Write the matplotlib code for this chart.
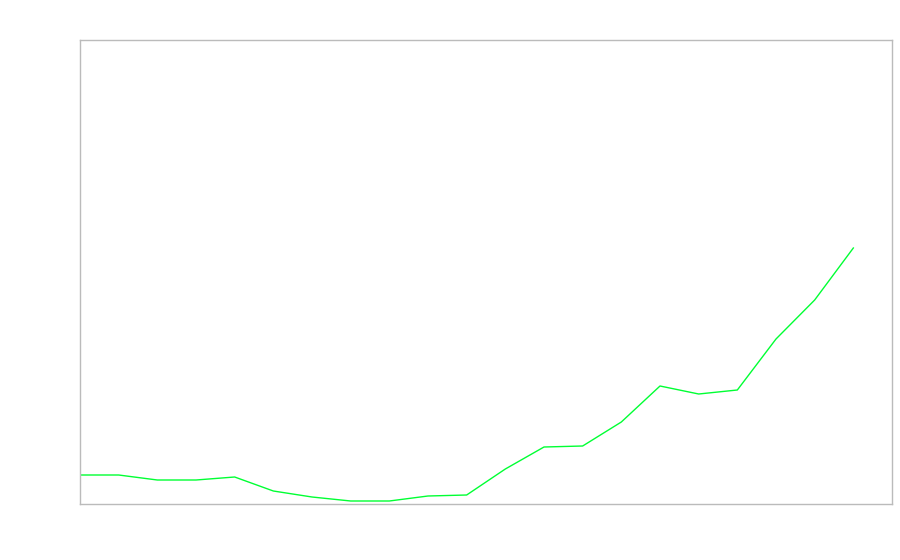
import matplotlib
matplotlib.use('Agg')
import matplotlib.pyplot as plt

# Data (arbitrary units, no labels shown)
periods = list(range(21))
values = [29, 29, 24, 24, 27, 13, 7, 3, 3, 8, 9, 35, 57, 58, 82, 118, 110, 114, 165, 204, 256]

fig = plt.figure(figsize=(9, 5.6), dpi=100)
ax = fig.add_axes([80 / 900, 56 / 560, 812 / 900, 464 / 560])

ax.plot(periods, values, color='#00ff33', linewidth=1.0)

ax.set_xlim(0, 21)
ax.set_ylim(0, 464)
ax.set_xticks([])
ax.set_yticks([])
for spine in ax.spines.values():
    spine.set_color('#bbbbbb')
    spine.set_linewidth(1.0)

fig.savefig('out.png', dpi=100)
